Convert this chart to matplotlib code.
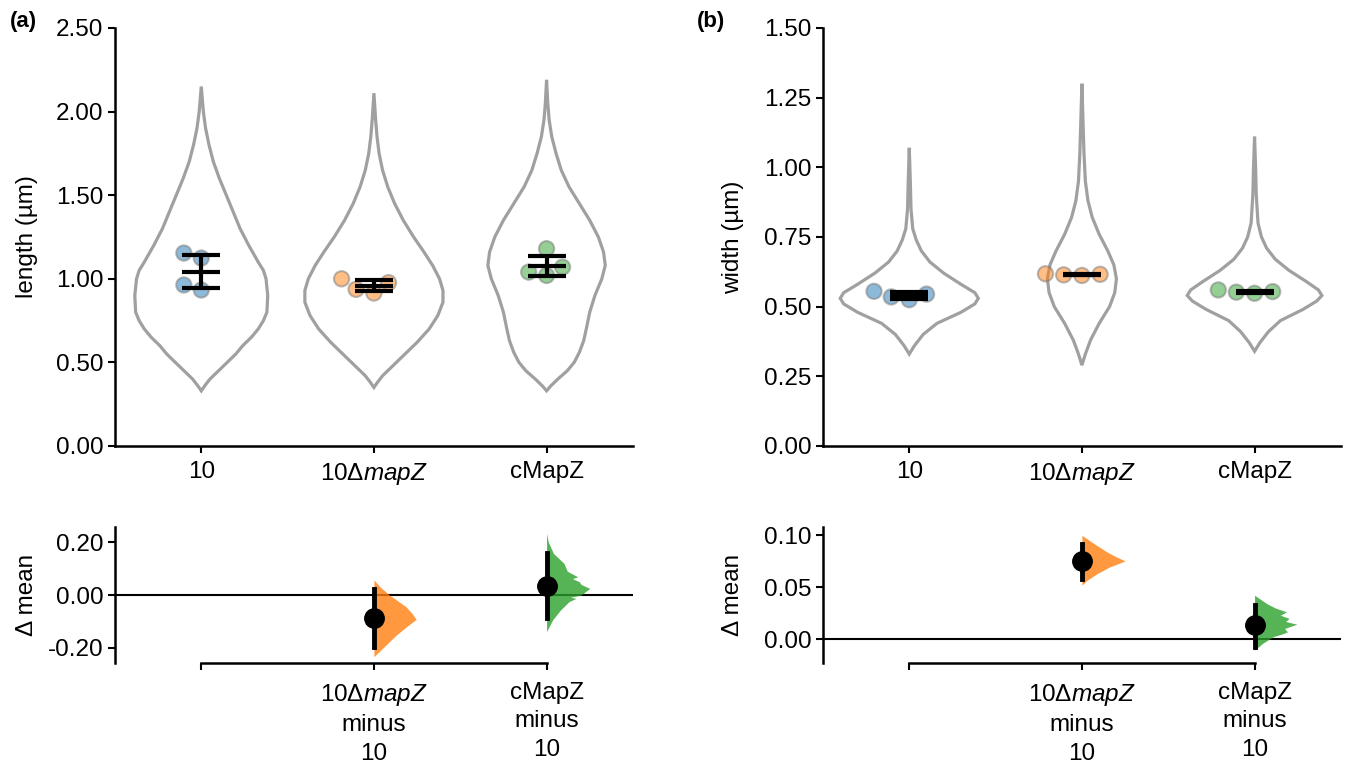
import numpy as np
import matplotlib
matplotlib.use('Agg')
import matplotlib.pyplot as plt
import seaborn as sns

plt.rcParams['font.family'] = ['Liberation Sans', 'DejaVu Sans']
plt.rcParams['mathtext.fontset'] = 'custom'
plt.rcParams['mathtext.rm'] = 'Liberation Sans'
plt.rcParams['mathtext.it'] = 'Liberation Sans:italic'
plt.rcParams['axes.unicode_minus'] = False

# groups and colours
groups = ['10', '10ΔmapZ', 'cMapZ']
tick_labels = ['10', r'10Δ$\it{mapZ}$', 'cMapZ']
contrast_labels = ['', '10Δ$\\it{mapZ}$\nminus\n10', 'cMapZ\nminus\n10']
colors = ['#1f77b4', '#ff7f0e', '#2ca02c']

# replicate means (um)
length_reps = [[1.124, 1.154, 0.963, 0.933],
               [1.000, 0.937, 0.915, 0.977],
               [1.180, 1.070, 1.040, 1.020]]
width_reps = [[0.545, 0.555, 0.525, 0.535],
              [0.612, 0.616, 0.614, 0.618],
              [0.554, 0.560, 0.548, 0.552]]

# violin outlines: (value, half width in category units)
length_violins = [
    [(0.33, 0.0), (0.36, 0.02), (0.40, 0.05), (0.45, 0.10), (0.50, 0.15), (0.55, 0.20),
     (0.60, 0.24), (0.65, 0.29), (0.70, 0.33), (0.75, 0.36), (0.80, 0.38), (0.90, 0.385),
     (1.00, 0.375), (1.05, 0.36), (1.10, 0.33), (1.20, 0.275), (1.30, 0.225), (1.40, 0.185),
     (1.50, 0.145), (1.60, 0.105), (1.70, 0.07), (1.80, 0.045), (1.90, 0.025), (2.00, 0.012),
     (2.15, 0.0)],
    [(0.35, 0.0), (0.38, 0.02), (0.42, 0.05), (0.48, 0.11), (0.55, 0.18), (0.62, 0.25),
     (0.70, 0.32), (0.78, 0.37), (0.86, 0.40), (0.93, 0.40), (1.00, 0.38), (1.08, 0.34),
     (1.16, 0.29), (1.25, 0.23), (1.35, 0.17), (1.45, 0.12), (1.55, 0.08), (1.65, 0.05),
     (1.75, 0.03), (1.85, 0.018), (1.95, 0.01), (2.11, 0.0)],
    [(0.33, 0.0), (0.36, 0.025), (0.40, 0.065), (0.45, 0.12), (0.50, 0.16), (0.56, 0.19),
     (0.63, 0.215), (0.70, 0.23), (0.80, 0.25), (0.90, 0.28), (1.00, 0.32), (1.08, 0.34),
     (1.16, 0.33), (1.25, 0.30), (1.35, 0.25), (1.45, 0.19), (1.55, 0.13), (1.65, 0.085),
     (1.75, 0.055), (1.85, 0.03), (1.95, 0.015), (2.05, 0.007), (2.19, 0.0)],
]
width_violins = [
    [(0.33, 0.0), (0.36, 0.03), (0.40, 0.08), (0.44, 0.16), (0.48, 0.30), (0.51, 0.38),
     (0.53, 0.40), (0.55, 0.38), (0.58, 0.30), (0.62, 0.20), (0.66, 0.12), (0.70, 0.07),
     (0.74, 0.04), (0.78, 0.02), (0.85, 0.01), (0.95, 0.006), (1.07, 0.0)],
    [(0.29, 0.0), (0.33, 0.02), (0.38, 0.05), (0.44, 0.10), (0.50, 0.16), (0.55, 0.19),
     (0.60, 0.20), (0.65, 0.185), (0.70, 0.15), (0.76, 0.10), (0.82, 0.06), (0.88, 0.035),
     (0.95, 0.02), (1.05, 0.012), (1.15, 0.007), (1.30, 0.0)],
    [(0.34, 0.0), (0.37, 0.03), (0.41, 0.08), (0.45, 0.15), (0.49, 0.28), (0.52, 0.36),
     (0.54, 0.39), (0.56, 0.37), (0.59, 0.30), (0.63, 0.20), (0.67, 0.12), (0.71, 0.07),
     (0.75, 0.04), (0.80, 0.02), (0.90, 0.01), (1.00, 0.006), (1.11, 0.0)],
]

# bootstrap distributions of mean differences: (value, width in category units)
length_boot = [
    [(-0.233, 0.0), (-0.195, 0.06), (-0.151, 0.13), (-0.119, 0.19), (-0.092, 0.245),
     (-0.069, 0.22), (-0.044, 0.185), (0.0, 0.09), (0.031, 0.035), (0.057, 0.0)],
    [(-0.138, 0.0), (-0.094, 0.035), (-0.057, 0.08), (-0.025, 0.13), (-0.013, 0.17),
     (-0.008, 0.14), (0.0, 0.2), (0.025, 0.25), (0.04, 0.2), (0.05, 0.19), (0.062, 0.15),
     (0.069, 0.18), (0.09, 0.12), (0.12, 0.1), (0.157, 0.04), (0.20, 0.01), (0.233, 0.0)],
]
width_boot = [
    [(0.052, 0.0), (0.0567, 0.03), (0.063, 0.087), (0.0695, 0.16), (0.0753, 0.25),
     (0.080, 0.19), (0.084, 0.145), (0.092, 0.07), (0.100, 0.0)],
    [(-0.0106, 0.0), (-0.0041, 0.046), (0.0022, 0.105), (0.005, 0.16), (0.007, 0.19),
     (0.0103, 0.174), (0.0144, 0.245), (0.017, 0.18), (0.020, 0.2), (0.023, 0.15),
     (0.0263, 0.185), (0.030, 0.12), (0.0343, 0.07), (0.0423, 0.0)],
]
# 95% CI of the mean differences
length_ci = [(-0.195, 0.023), (-0.088, 0.157)]
width_ci = [(0.058, 0.092), (-0.0074, 0.0327)]

fig = plt.figure(figsize=(13.46, 7.65), dpi=100)
FS = 17.5
GRAY = '#a0a0a0'


def style(ax, pad):
    for s in ['top', 'right']:
        ax.spines[s].set_visible(False)
    for s in ['left', 'bottom']:
        ax.spines[s].set_linewidth(1.8)
    ax.tick_params(labelsize=FS, width=1.5, length=5)
    ax.tick_params(axis='x', pad=pad)


def draw_top(ax, reps, violins, ylim, yticks, ylabel):
    for i, prof in enumerate(violins):
        v = np.array([p[0] for p in prof])
        w = np.array([p[1] for p in prof])
        xs = np.concatenate([i + w, (i - w)[::-1]])
        ys = np.concatenate([v, v[::-1]])
        ax.fill(xs, ys, facecolor='white', edgecolor=GRAY, lw=2.3, zorder=1)
    xcat = np.concatenate([[groups[i]] * len(r) for i, r in enumerate(reps)])
    yval = np.concatenate(reps)
    sns.swarmplot(x=xcat, y=yval, order=groups, hue=xcat, hue_order=groups,
                  palette=colors, ax=ax, size=11, alpha=0.5, edgecolor='#777777',
                  linewidth=1.5, legend=False, zorder=2)
    for i, r in enumerate(reps):
        m, sd = np.mean(r), np.std(r)
        ax.errorbar(i, m, yerr=sd, fmt='_', color='black', markersize=27, mew=3,
                    elinewidth=3, capsize=13.5, capthick=3, zorder=3)
    ax.set_xlim(-0.5, 2.5)
    ax.set_ylim(*ylim)
    ax.set_yticks(yticks)
    ax.set_yticklabels(['%.2f' % t for t in yticks])
    ax.set_xticks(range(3))
    ax.set_xticklabels(tick_labels)
    ax.set_xlabel('')
    ax.set_ylabel(ylabel, fontsize=FS)
    style(ax, 5.5)


def draw_contrast(ax, boots, cis, reps, ylim, yticks):
    ax.axhline(0, color='black', lw=1.5, zorder=1)
    means = [np.mean(r) for r in reps]
    for j, prof in enumerate(boots):
        x0 = j + 1
        v = np.array([p[0] for p in prof])
        w = np.array([p[1] for p in prof])
        ax.fill_betweenx(v, x0, x0 + w, color=colors[j + 1], alpha=0.8, lw=0, zorder=2)
        lo, hi = cis[j]
        ax.plot([x0, x0], [lo, hi], color='black', lw=3.5, zorder=3)
        ax.plot(x0, means[j + 1] - means[0], 'o', color='black', markersize=14, zorder=4)
    ax.set_xlim(-0.5, 2.5)
    ax.set_ylim(*ylim)
    ax.set_yticks(yticks)
    ax.set_yticklabels(['%.2f' % t for t in yticks])
    ax.set_xticks(range(3))
    ax.set_xticklabels(contrast_labels, linespacing=1.38)
    ax.spines['bottom'].set_bounds(0, 2)
    ax.set_ylabel('Δ mean', fontsize=FS)
    style(ax, 8.5)


ax1 = fig.add_axes([0.0854, 0.4170, 0.3848, 0.5464])
ax2 = fig.add_axes([0.6114, 0.4170, 0.3848, 0.5464])
ax3 = fig.add_axes([0.0854, 0.1333, 0.3848, 0.1778])
ax4 = fig.add_axes([0.6114, 0.1333, 0.3848, 0.1778])

draw_top(ax1, length_reps, length_violins, (0, 2.5), np.arange(0, 2.51, 0.5), 'length (µm)')
draw_top(ax2, width_reps, width_violins, (0, 1.5), np.arange(0, 1.51, 0.25), 'width (µm)')
draw_contrast(ax3, length_boot, length_ci, length_reps, (-0.257, 0.257), [-0.2, 0.0, 0.2])
draw_contrast(ax4, width_boot, width_ci, width_reps, (-0.023, 0.108), [0.0, 0.05, 0.10])

for ax in (ax1, ax3):
    ax.yaxis.set_label_coords(-0.148, 0.5)
for ax in (ax2, ax4):
    ax.yaxis.set_label_coords(-0.152, 0.5)

fig.text(10 / 1346, 1 - 22 / 765, '(a)', fontsize=16, fontweight='bold', va='center', ha='left')
fig.text(697 / 1346, 1 - 22 / 765, '(b)', fontsize=16, fontweight='bold', va='center', ha='left')

fig.savefig('out.png', dpi=100)
